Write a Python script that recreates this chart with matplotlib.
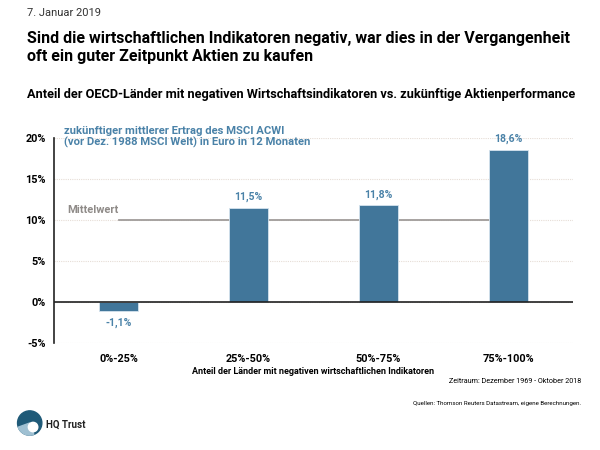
import matplotlib
matplotlib.use("Agg")
import matplotlib.pyplot as plt
from matplotlib.patches import Circle, Wedge

plt.rcParams['font.family'] = ['Roboto', 'DejaVu Sans']

categories = ["0%-25%", "25%-50%", "50%-75%", "75%-100%"]
returns = [-1.1, 11.5, 11.8, 18.6]
mean_value = 10.0
yticks = [-5, 0, 5, 10, 15, 20]

blue = "#41769a"
label_blue = "#4a82a8"

fig = plt.figure(figsize=(6, 4.5), dpi=100)
ax = fig.add_axes([0.09, 0.238, 0.865, 0.455])

x = range(len(categories))
ax.hlines(yticks, -0.5, 3.5, colors="#e6ddd6", linestyles=(0, (1, 1)), linewidth=0.8, zorder=0)
ax.plot([0, 3], [mean_value, mean_value], color="#a09c9a", linewidth=1.3, zorder=1)
ax.bar(x, returns, width=0.3, color=blue, edgecolor="#d5e3ee", linewidth=0.6, zorder=2)
ax.axhline(0, color="#222222", linewidth=1.2, zorder=3)

for i, v in enumerate(returns):
    txt = f"{v:.1f}%".replace(".", ",")
    if v >= 0:
        ax.text(i, v + 0.7, txt, ha="center", va="bottom", color=label_blue, fontsize=7.5, fontweight="bold")
    else:
        ax.text(i, v - 0.8, txt, ha="center", va="top", color=label_blue, fontsize=7.5, fontweight="bold")

ax.text(-0.4, 10.6, "Mittelwert", color="#8f8b88", fontsize=8, fontweight="bold", ha="left", va="bottom")
ax.text(-0.42, 20.15, "zukünftiger mittlerer Ertrag des MSCI ACWI\n(vor Dez. 1988 MSCI Welt) in Euro in 12 Monaten",
        color=label_blue, fontsize=8.1, fontweight="bold", ha="left", va="center", linespacing=1.05)

ax.set_xlim(-0.5, 3.5)
ax.set_ylim(-5, 20)
ax.set_yticks(yticks)
ax.set_yticklabels([f"{t}%" for t in yticks], fontsize=7.8, fontweight="bold")
ax.set_xticks(list(x))
ax.set_xticklabels(categories, fontsize=7.8, fontweight="bold")
ax.tick_params(axis="both", length=0, pad=6)
ax.tick_params(axis="x", pad=8)
ax.set_xlabel("Anteil der Länder mit negativen wirtschaftlichen Indikatoren", fontsize=6.5, fontweight="bold", labelpad=2)
for s in ["top", "right", "bottom"]:
    ax.spines[s].set_visible(False)
ax.spines["left"].set_linewidth(1.2)
ax.spines["left"].set_color("#222222")

fig.text(0.045, 0.970, "7. Januar 2019", fontsize=8, color="#333333", va="center")
fig.text(0.045, 0.894, "Sind die wirtschaftlichen Indikatoren negativ, war dies in der Vergangenheit\noft ein guter Zeitpunkt Aktien zu kaufen",
         fontsize=11.5, fontweight="bold", va="center", linespacing=1.25)
fig.text(0.045, 0.789, "Anteil der OECD-Länder mit negativen Wirtschaftsindikatoren vs. zukünftige Aktienperformance",
         fontsize=9.15, fontweight="bold", va="center")
fig.text(0.968, 0.153, "Zeitraum: Dezember 1969 - Oktober 2018", fontsize=5.2, ha="right", va="center")
fig.text(0.968, 0.104, "Quellen: Thomson Reuters Datastream, eigene Berechnungen.", fontsize=4.4, ha="right", va="center")

# logo
lax = fig.add_axes([0.027, 0.030, 0.045, 0.06])
lax.set_xlim(-1, 1)
lax.set_ylim(-1, 1)
lax.set_aspect("equal")
lax.axis("off")
lax.add_patch(Circle((0, 0), 0.9, color="#1f5a78"))
lax.add_patch(Wedge((0, 0), 0.9, 200, 290, color="#9fc0d2"))
lax.add_patch(Circle((0.25, -0.3), 0.35, color="white"))
fig.text(0.076, 0.057, "HQ Trust", fontsize=7, fontweight="bold", va="center", color="#222222")

fig.savefig("out.png", dpi=100)
